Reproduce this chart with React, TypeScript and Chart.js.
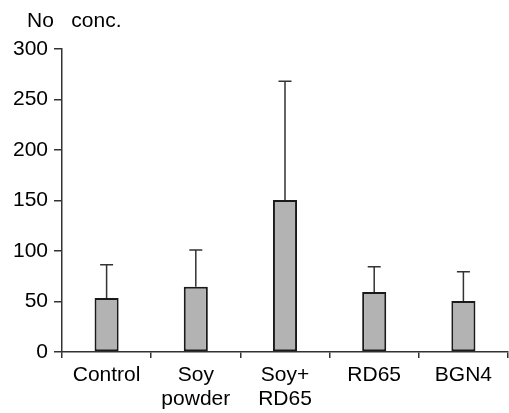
import React, { useEffect, useRef } from "react";
import { Chart, registerables } from "chart.js";

Chart.register(...registerables);

const categories: string[][] = [["Control"], ["Soy", "powder"], ["Soy+", "RD65"], ["RD65"], ["BGN4"]];
const values: number[] = [53.5, 64.5, 150.5, 59.5, 50.5];
const errors: number[] = [33, 36.5, 117.5, 25, 29];
const yTicks: number[] = [0, 50, 100, 150, 200, 250, 300];
const yUnitLabel = "No   conc.";

const FONT = "'Liberation Sans', Arial, sans-serif";
const FONT_SIZE = 21;

const errorBarPlugin = {
  id: "errorBars",
  afterDatasetsDraw(chart: any) {
    const ctx = chart.ctx;
    const meta = chart.getDatasetMeta(0);
    const yScale = chart.scales.y;
    ctx.save();
    ctx.strokeStyle = "#333";
    ctx.lineWidth = 1.5;
    meta.data.forEach((bar: any, i: number) => {
      const x = bar.x;
      const yTop = yScale.getPixelForValue(values[i]);
      const yErr = yScale.getPixelForValue(values[i] + errors[i]);
      ctx.beginPath();
      ctx.moveTo(x, yTop);
      ctx.lineTo(x, yErr);
      ctx.moveTo(x - 6.5, yErr);
      ctx.lineTo(x + 6.5, yErr);
      ctx.stroke();
    });
    ctx.restore();
  },
};

const unitLabelPlugin = {
  id: "unitLabel",
  afterDraw(chart: any) {
    const ctx = chart.ctx;
    const area = chart.chartArea;
    ctx.save();
    ctx.fillStyle = "#000";
    ctx.font = `${FONT_SIZE}px ${FONT}`;
    ctx.textAlign = "left";
    ctx.textBaseline = "middle";
    ctx.fillText(yUnitLabel, area.left - 35, area.top - 28);
    ctx.restore();
  },
};

export default function App() {
  const ref = useRef<HTMLCanvasElement | null>(null);
  useEffect(() => {
    if (!ref.current) return;
    const chart = new Chart(ref.current, {
      type: "bar",
      data: {
        labels: categories,
        datasets: [
          {
            data: values,
            backgroundColor: "#b3b3b3",
            borderColor: "#1a1a1a",
            borderWidth: 2,
            borderSkipped: false,
            categoryPercentage: 1,
            barPercentage: 0.27,
          },
        ],
      },
      options: {
        animation: false,
        responsive: false,
        maintainAspectRatio: false,
        layout: { padding: { top: 49, right: 1, left: 0, bottom: 0 } },
        plugins: {
          legend: { display: false },
          tooltip: { enabled: false },
        },
        scales: {
          x: {
            offset: true,
            grid: {
              display: true,
              offset: true,
              drawOnChartArea: false,
              drawTicks: true,
              tickLength: 6,
              color: "#333",
              lineWidth: 1.5,
            },
            border: { display: true, color: "#333", width: 1.5 },
            ticks: {
              color: "#000",
              font: { family: FONT, size: FONT_SIZE, lineHeight: 1.15 },
              padding: 5,
              maxRotation: 0,
              autoSkip: false,
            },
            afterFit(scale: any) {
              scale.height = 61;
            },
          },
          y: {
            min: 0,
            max: 300,
            afterBuildTicks(scale: any) {
              scale.ticks = yTicks.map((v) => ({ value: v }));
            },
            grid: {
              display: true,
              drawOnChartArea: false,
              drawTicks: true,
              tickLength: 8,
              color: "#333",
              lineWidth: 1.5,
            },
            border: { display: true, color: "#333", width: 1.5 },
            ticks: {
              color: "#000",
              font: { family: FONT, size: FONT_SIZE },
              padding: 6,
            },
            afterFit(scale: any) {
              scale.width = 62;
            },
          },
        },
      },
      plugins: [errorBarPlugin, unitLabelPlugin],
    });
    return () => chart.destroy();
  }, []);
  return (
    <div style={{ position: "fixed", left: 0, top: 0, width: 509, height: 413, background: "#fff" }}>
      <canvas ref={ref} width={509} height={413} style={{ display: "block" }} />
    </div>
  );
}
